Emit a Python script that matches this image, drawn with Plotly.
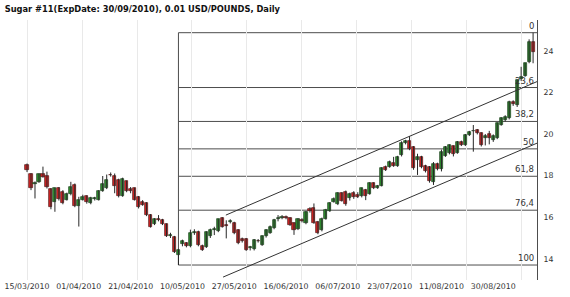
import pandas as pd
import plotly.graph_objects as go

# ---------------- data ----------------
start_date = "2010-03-15"
end_date = "2010-09-14"
holidays = ["2010-04-02", "2010-05-31", "2010-07-05", "2010-09-06"]
dates = [d for d in pd.bdate_range(start_date, end_date) if d.strftime("%Y-%m-%d") not in holidays]
date_labels = [d.strftime("%d/%m/%Y") for d in dates]

opens = [18.50, 18.08, 17.60, 17.71, 18.08, 17.98, 17.34, 16.75, 17.38, 17.22,
         16.85, 17.10, 17.56, 16.55, 16.85, 17.00, 16.68, 16.86, 16.85, 17.26,
         17.40, 18.05, 17.98, 17.78, 17.02, 17.72, 17.34, 17.38, 16.98, 16.72,
         16.67, 16.10, 15.68, 15.92, 15.86, 15.66, 15.08, 15.05, 14.20, 14.71,
         14.75, 14.60, 15.25, 15.30, 14.62, 14.58, 15.08, 15.38, 15.32, 15.95,
         15.62, 15.75, 15.70, 15.38, 14.95, 14.97, 14.50, 14.45, 14.86, 14.68,
         15.08, 15.25, 15.46, 15.92, 15.98, 16.00, 15.94, 15.70, 15.42, 15.86,
         15.70, 16.40, 16.42, 15.78, 15.38, 15.90, 16.30, 16.75, 16.62, 17.14,
         17.20, 16.90, 17.18, 17.08, 17.00, 17.30, 17.12, 17.62, 17.42, 17.52,
         18.42, 18.42, 18.62, 18.48, 18.98, 19.58, 19.66, 19.36, 18.76, 18.90,
         18.45, 18.40, 17.70, 18.55, 18.30, 18.95, 19.08, 19.40, 19.10, 19.62,
         19.47, 19.95, 20.12, 20.18, 20.03, 19.80, 20.00, 19.72, 19.79, 20.43,
         20.67, 20.75, 21.55, 21.39, 22.62, 22.80, 23.45, 24.40]
highs = [18.58, 18.12, 17.72, 18.10, 18.43, 18.19, 17.40, 17.42, 17.45, 17.30,
         17.18, 17.70, 17.62, 16.98, 17.08, 17.05, 16.98, 16.98, 17.30, 17.98,
         18.05, 18.15, 18.10, 17.85, 17.90, 17.76, 17.45, 17.42, 17.02, 16.82,
         16.72, 16.15, 15.95, 16.10, 15.92, 15.70, 15.25, 15.10, 14.48, 14.92,
         14.80, 15.40, 15.42, 15.35, 14.68, 15.32, 15.45, 15.54, 15.92, 16.00,
         15.85, 15.90, 15.78, 15.42, 15.02, 15.00, 14.62, 14.95, 14.95, 15.12,
         15.42, 15.60, 15.92, 16.10, 16.10, 16.08, 16.00, 15.75, 15.95, 15.95,
         16.30, 16.48, 16.66, 15.82, 15.98, 16.40, 16.72, 16.95, 17.20, 17.20,
         17.28, 17.18, 17.25, 17.20, 17.42, 17.36, 17.68, 17.68, 17.55, 18.40,
         18.48, 18.72, 18.90, 18.95, 19.65, 19.72, 19.90, 19.42, 19.05, 18.95,
         18.52, 18.46, 18.65, 18.62, 19.25, 19.42, 19.50, 19.45, 19.66, 19.68,
         20.00, 20.15, 20.43, 20.24, 20.08, 20.00, 20.15, 19.98, 20.55, 20.80,
         20.90, 21.60, 21.62, 22.62, 23.23, 23.42, 24.55, 24.87]
lows = [18.17, 17.30, 16.90, 17.65, 17.90, 17.38, 16.38, 16.26, 16.80, 16.62,
        16.80, 17.05, 16.48, 15.55, 16.80, 16.65, 16.62, 16.80, 16.80, 17.22,
        17.35, 17.95, 17.15, 16.95, 16.98, 17.20, 17.15, 16.80, 16.42, 16.55,
        16.05, 15.50, 15.62, 15.80, 15.62, 15.05, 15.00, 14.28, 13.70, 14.60,
        14.55, 14.55, 15.15, 14.60, 14.38, 14.52, 15.00, 15.14, 15.28, 15.50,
        14.98, 15.70, 15.18, 14.70, 14.78, 14.38, 14.40, 14.40, 14.78, 14.62,
        15.02, 15.20, 15.42, 15.80, 15.90, 15.90, 15.58, 15.15, 15.38, 15.75,
        15.66, 16.22, 15.68, 15.18, 15.32, 15.88, 16.25, 16.70, 16.58, 16.75,
        16.55, 16.80, 16.88, 16.92, 16.95, 16.82, 17.08, 17.35, 17.36, 17.48,
        18.22, 18.38, 18.42, 18.42, 18.92, 19.50, 19.22, 18.28, 18.03, 18.35,
        18.15, 17.66, 17.55, 18.25, 18.20, 18.90, 19.02, 18.92, 19.05, 19.42,
        19.42, 19.90, 19.15, 19.98, 19.40, 19.45, 19.50, 19.62, 19.75, 20.40,
        20.60, 20.70, 21.35, 21.30, 22.55, 22.75, 23.40, 23.40]
closes = [18.25, 17.40, 17.63, 18.06, 17.95, 17.43, 16.47, 17.38, 16.88, 16.70,
          17.12, 17.46, 16.55, 16.85, 16.98, 16.72, 16.93, 16.90, 17.26, 17.60,
          17.78, 18.02, 17.50, 17.00, 17.83, 17.25, 17.27, 16.85, 16.48, 16.60,
          16.12, 15.55, 15.90, 15.85, 15.68, 15.10, 15.12, 14.35, 14.42, 14.87,
          14.60, 15.25, 15.30, 14.66, 14.43, 15.28, 15.40, 15.40, 15.89, 15.55,
          15.58, 15.80, 15.22, 14.76, 14.85, 14.44, 14.55, 14.90, 14.84, 15.08,
          15.38, 15.54, 15.86, 15.94, 16.02, 15.98, 15.62, 15.40, 15.92, 15.82,
          16.26, 16.28, 15.72, 15.24, 15.92, 16.34, 16.66, 16.88, 17.14, 16.80,
          16.65, 17.10, 16.95, 16.96, 17.38, 17.00, 17.62, 17.40, 17.48, 18.35,
          18.28, 18.66, 18.48, 18.90, 19.58, 19.64, 19.28, 18.35, 18.90, 18.42,
          18.22, 17.72, 18.58, 18.30, 19.15, 19.38, 19.45, 19.05, 19.62, 19.48,
          19.97, 20.11, 20.16, 20.03, 19.45, 19.92, 19.80, 19.92, 20.51, 20.75,
          20.83, 21.55, 21.42, 22.59, 22.74, 23.39, 24.40, 23.95]

# tick labels (every 13 sessions)
tick_dates = ["15/03/2010", "01/04/2010", "21/04/2010", "10/05/2010", "27/05/2010",
              "16/06/2010", "06/07/2010", "23/07/2010", "11/08/2010", "30/08/2010"]
price_ticks = [14, 16, 18, 20, 22, 24]

# Fibonacci retracement (from swing low to swing high)
fib_ratios = [0, 23.6, 38.2, 50, 61.8, 76.4, 100]
fib_texts = ["0", "23,6", "38,2", "50", "61,8", "76,4", "100"]

# parallel trend channel: (session index, price) anchor pairs
channel_upper = [(49.9, 16.10), (128.0, 22.52)]
channel_lower = [(49.2, 13.12), (128.0, 19.56)]

# ---------------- figure ----------------
X_RANGE = [-6.78, 127.98]
Y_RANGE = [12.98, 25.48]
UP_FILL, UP_EDGE = "#2f8f2f", "#1d3f1d"
DN_FILL, DN_EDGE = "#d42424", "#4f1515"
WICK = "#262626"

fig = go.Figure()

# wicks
wx, wy = [], []
for d, h, l in zip(date_labels, highs, lows):
    wx += [d, d, None]
    wy += [l, h, None]
fig.add_trace(go.Scatter(x=wx, y=wy, mode="lines", line=dict(color=WICK, width=1),
                         showlegend=False, hoverinfo="skip", connectgaps=False))

# bodies
base = [min(o, c) for o, c in zip(opens, closes)]
height = [max(abs(c - o), 0.03) for o, c in zip(opens, closes)]
up = [c >= o for o, c in zip(opens, closes)]
fig.add_trace(go.Bar(x=date_labels, y=height, base=base, width=0.78,
                     marker=dict(color=[UP_FILL if u else DN_FILL for u in up],
                                 line=dict(color=[UP_EDGE if u else DN_EDGE for u in up], width=0.7)),
                     showlegend=False, hoverinfo="skip"))

# helper for grid axis
fig.add_trace(go.Scatter(x=[0], y=[20], xaxis="x2", mode="markers",
                         marker=dict(opacity=0), showlegend=False, hoverinfo="skip"))

hi = max(highs)
lo = min(lows)
lo_idx = lows.index(lo)
line_col = "#4d4d4d"
shapes = []
annotations = []
for r, t in zip(fib_ratios, fib_texts):
    lvl = hi - r / 100.0 * (hi - lo)
    shapes.append(dict(type="line", xref="x", yref="y", x0=lo_idx, x1=X_RANGE[1],
                       y0=lvl, y1=lvl, line=dict(color=line_col, width=1), layer="below"))
    annotations.append(dict(x=X_RANGE[1], y=lvl, xref="x", yref="y", text=t,
                            showarrow=False, xanchor="right", yanchor="bottom",
                            xshift=-1, yshift=0,
                            font=dict(family="DejaVu Sans", size=8.5, color="#333333")))
shapes.append(dict(type="line", xref="x", yref="y", x0=lo_idx, x1=lo_idx, y0=lo, y1=hi,
                   line=dict(color=line_col, width=1), layer="below"))
for ch in (channel_upper, channel_lower):
    shapes.append(dict(type="line", xref="x", yref="y", x0=ch[0][0], y0=ch[0][1],
                       x1=ch[1][0], y1=ch[1][1], line=dict(color="#333333", width=1)))

fig.update_layout(
    width=570, height=297,
    margin=dict(l=0, r=33, t=20, b=17),
    paper_bgcolor="white", plot_bgcolor="white",
    barmode="overlay", bargap=0,
    title=dict(text="<b>Sugar #11(ExpDate: 30/09/2010), 0.01 USD/POUNDS, Daily</b>",
               x=5 / 570, xanchor="left", xref="paper", y=1 - 9 / 297, yanchor="middle",
               font=dict(family="DejaVu Sans", size=8.3, color="#111111")),
    xaxis=dict(type="category", range=X_RANGE,
               tickmode="array", tickvals=tick_dates, ticktext=tick_dates,
               showgrid=False, zeroline=False, showline=False, ticks="",
               tickfont=dict(family="DejaVu Sans", size=7.8, color="#333333")),
    xaxis2=dict(overlaying="x", range=X_RANGE, tick0=0, dtick=13.8, showgrid=True,
                gridcolor="#e9e9e9", gridwidth=1, showticklabels=False, zeroline=False,
                ticks="", showline=False),
    yaxis=dict(range=Y_RANGE, side="right", tickvals=price_ticks,
               showgrid=False, zeroline=False, showline=True, linecolor=line_col,
               linewidth=1, ticks="", ticklabelstandoff=4,
               tickfont=dict(family="DejaVu Sans", size=7.8, color="#333333")),
    shapes=shapes, annotations=annotations,
)
fig.write_html("out.html")
